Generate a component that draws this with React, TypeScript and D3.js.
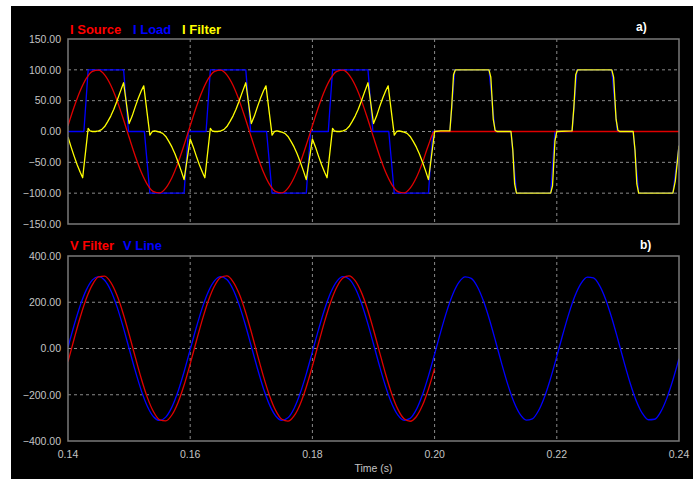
import React from "react";
import * as d3 from "d3";

// ---------- data ----------
const xTicks = [0.14, 0.16, 0.18, 0.2, 0.22, 0.24];
const yTicksTop = [-150, -100, -50, 0, 50, 100, 150];
const yTicksBot = [-400, -200, 0, 200, 400];

// I Source (A), sampled every 1 ms from 0.140 to 0.199, then off
const iSourceT = [
  0.140, 0.141, 0.142, 0.143, 0.144, 0.145, 0.146, 0.147, 0.148, 0.149,
  0.150, 0.151, 0.152, 0.153, 0.154, 0.155, 0.156, 0.157, 0.158, 0.159,
  0.160, 0.161, 0.162, 0.163, 0.164, 0.165, 0.166, 0.167, 0.168, 0.169,
  0.170, 0.171, 0.172, 0.173, 0.174, 0.175, 0.176, 0.177, 0.178, 0.179,
  0.180, 0.181, 0.182, 0.183, 0.184, 0.185, 0.186, 0.187, 0.188, 0.189,
  0.190, 0.191, 0.192, 0.193, 0.194, 0.195, 0.196, 0.197, 0.198, 0.199,
  0.200, 0.240,
];
const iSourceV = [
  9.4, 39.7, 66.1, 86.1, 97.6, 99.6, 91.8, 75.0, 50.9, 21.8,
  -9.4, -39.7, -66.1, -86.1, -97.6, -99.6, -91.8, -75.0, -50.9, -21.8,
  9.4, 39.7, 66.1, 86.1, 97.6, 99.6, 91.8, 75.0, 50.9, 21.8,
  -9.4, -39.7, -66.1, -86.1, -97.6, -99.6, -91.8, -75.0, -50.9, -21.8,
  9.4, 39.7, 66.1, 86.1, 97.6, 99.6, 91.8, 75.0, 50.9, 21.8,
  -9.4, -39.7, -66.1, -86.1, -97.6, -99.6, -91.8, -75.0, -50.9, -21.8,
  0, 0,
];

// I Load (A), breakpoints
const iLoadT = [
  0.1400, 0.1426, 0.1433, 0.1491, 0.1499, 0.1525, 0.1534, 0.1590, 0.1597,
  0.1626, 0.1633, 0.1691, 0.1699, 0.1725, 0.1734, 0.1790, 0.1797,
  0.1826, 0.1833, 0.1891, 0.1899, 0.1925, 0.1934, 0.1990, 0.1997,
  0.2025, 0.2033, 0.2089, 0.2099, 0.2125, 0.2134, 0.2190, 0.2197,
  0.2225, 0.2233, 0.2290, 0.2299, 0.2325, 0.2334, 0.2390, 0.2400,
];
const iLoadV = [
  0, 0, 100, 100, 0, 0, -100, -100, 0,
  0, 100, 100, 0, 0, -100, -100, 0,
  0, 100, 100, 0, 0, -100, -100, 0,
  0, 100, 100, 0, 0, -100, -100, 0,
  0, 100, 100, 0, 0, -100, -100, -23,
];

// I Filter (A), breakpoints
const iFilterT = [
  0.1400, 0.1405, 0.1410, 0.1415, 0.1420, 0.1424, 0.1433, 0.1436, 0.1440, 0.1445,
  0.1450, 0.1455, 0.1460, 0.1465, 0.1470, 0.1475, 0.1480, 0.1485, 0.1491, 0.1500,
  0.1505, 0.1510, 0.1515, 0.1520, 0.1524, 0.1534, 0.1538, 0.1542, 0.1546, 0.1550,
  0.1555, 0.1560, 0.1565, 0.1570, 0.1575, 0.1580, 0.1585, 0.1590,
  0.1600, 0.1605, 0.1610, 0.1615, 0.1620, 0.1624, 0.1633, 0.1636, 0.1640, 0.1645,
  0.1650, 0.1655, 0.1660, 0.1665, 0.1670, 0.1675, 0.1680, 0.1685, 0.1691, 0.1700,
  0.1705, 0.1710, 0.1715, 0.1720, 0.1724, 0.1734, 0.1738, 0.1742, 0.1746, 0.1750,
  0.1755, 0.1760, 0.1765, 0.1770, 0.1775, 0.1780, 0.1785, 0.1790,
  0.1800, 0.1805, 0.1810, 0.1815, 0.1820, 0.1824, 0.1833, 0.1836, 0.1840, 0.1845,
  0.1850, 0.1855, 0.1860, 0.1865, 0.1870, 0.1875, 0.1880, 0.1885, 0.1891, 0.1900,
  0.1905, 0.1910, 0.1915, 0.1920, 0.1924, 0.1934, 0.1938, 0.1942, 0.1946, 0.1950,
  0.1955, 0.1960, 0.1965, 0.1970, 0.1975, 0.1980, 0.1985, 0.1990,
  0.2000, 0.2010, 0.2025, 0.2028, 0.2031, 0.2034, 0.2089, 0.2092, 0.2096, 0.2099,
  0.2102, 0.2125, 0.2128, 0.2131, 0.2134, 0.2190, 0.2193, 0.2197, 0.2200,
  0.2225, 0.2228, 0.2231, 0.2234, 0.2290, 0.2293, 0.2297, 0.2300, 0.2303,
  0.2325, 0.2328, 0.2331, 0.2334, 0.2390, 0.2394, 0.2400,
];
const iFilterV = [
  -9, -25, -40, -54, -66, -75, 5, 1, 0, 0,
  1, 3, 8, 16, 25, 36, 49, 63, 79, 13,
  25, 40, 54, 66, 74, -6, 0, 1, 0, -1,
  -3, -8, -16, -25, -36, -49, -63, -78,
  -12, -25, -40, -54, -66, -75, 5, 1, 0, 0,
  1, 3, 8, 16, 25, 36, 49, 63, 79, 13,
  25, 40, 54, 66, 74, -6, 0, 1, 0, -1,
  -3, -8, -16, -25, -36, -49, -63, -78,
  -12, -25, -40, -54, -66, -75, 5, 1, 0, 0,
  1, 3, 8, 16, 25, 36, 49, 63, 79, 13,
  25, 40, 54, 66, 74, -6, 0, 1, 0, -1,
  -3, -8, -16, -25, -36, -49, -63, -78,
  0, 1, 1, 40, 92, 100, 100, 88, 20, 2,
  0, 0, -30, -85, -100, -100, -88, -15, 0,
  1, 40, 92, 100, 100, 88, 20, 2, 0,
  0, -30, -85, -100, -100, -80, -23,
];

// V Line (V), sampled every 1 ms from 0.140 to 0.240
const vLineV = [
  4.9, 100.3, 186.0, 253.6, 296.7, 311.0, 295.2, 250.8, 182.0, 95.7,
  0, -95.7, -182.0, -250.8, -295.2, -311.0, -296.7, -253.6, -186.0, -100.3,
  -4.9, 91.0, 178.0, 247.8, 293.6, 310.9, 298.1, 256.4, 189.8, 104.9,
  9.8, -86.3, -174.0, -244.9, -291.9, -310.8, -299.5, -259.1, -193.7, -109.5,
  -14.6, 81.6, 170.0, 241.8, 290.2, 310.5, 300.7, 261.8, 197.5, 114.0,
  19.5, -76.9, -165.8, -238.8, -288.4, -310.2, -302.0, -264.4, -201.2, -118.6,
  -24.4, 72.1, 161.7, 235.5, 286.6, 309.8, 303.1, 266.9, 205.0, 123.1,
  29.3, -67.4, -157.5, -232.3, -284.7, -309.4, -304.1, -269.4, -208.6, -127.5,
  -34.1, 62.6, 153.2, 229.0, 282.6, 308.8, 305.1, 271.8, 212.2, 132.0,
  39.0, -57.8, -149.0, -225.7, -280.6, -308.2, -306.0, -274.2, -215.7, -136.4,
  -43.8,
];

// V Filter (V), sampled every 1 ms from 0.140 to 0.200
const vFilterV = [
  -56.9, 41.2, 135.2, 216.2, 276.1, 309.4, 312.6, 285.5, 230.9, 153.7,
  61.7, -36.3, -130.7, -212.5, -273.7, -308.4, -313.2, -287.6, -234.2, -158.0,
  -66.6, 31.3, 126.2, 208.9, 271.3, 307.3, 313.7, 289.6, 237.4, 162.3,
  71.4, -26.4, -121.7, -205.1, -268.7, -306.2, -314.1, -291.5, -240.7, -166.5,
  -76.2, 21.5, 117.1, 201.4, 266.1, 305.0, 314.4, 293.3, 243.8, 170.7,
  81.0, -16.5, -112.5, -197.5, -263.4, -303.8, -314.7, -295.1, -246.9, -174.8,
  -85.8,
];

// ---------- layout ----------
const W = 693;
const H = 479;
const PL = 68;
const PR = 679;
const TOP1 = 39;
const BOT1 = 224;
const TOP2 = 256;
const BOT2 = 441;

const FONT = "'Liberation Sans', Arial, Helvetica, sans-serif";
const GRID = "#8a8a8a";
const FRAME = "#7a7a7a";
const LABEL = "#c4c4c4";

const x = d3.scaleLinear().domain([0.14, 0.24]).range([PL, PR]);
const yTop = d3.scaleLinear().domain([-150, 150]).range([BOT1, TOP1]);
const yBot = d3.scaleLinear().domain([-400, 400]).range([BOT2, TOP2]);
const fmt = d3.format(".2f");

type P = [number, number];
const zip = (t: number[], v: number[]): P[] => t.map((tt, i) => [tt, v[i]]);
const msGrid = (n: number): number[] =>
  d3.range(n).map((i) => +(0.14 + i * 0.001).toFixed(4));

const lineLin = (ys: d3.ScaleLinear<number, number>) =>
  d3
    .line<P>()
    .x((d) => x(d[0]))
    .y((d) => ys(d[1]))
    .curve(d3.curveLinear);
const lineSmooth = (ys: d3.ScaleLinear<number, number>) =>
  d3
    .line<P>()
    .x((d) => x(d[0]))
    .y((d) => ys(d[1]))
    .curve(d3.curveMonotoneX);

function Panel({
  ys,
  top,
  bottom,
  yTicks,
  id,
}: {
  ys: d3.ScaleLinear<number, number>;
  top: number;
  bottom: number;
  yTicks: number[];
  id: string;
}) {
  return (
    <g>
      {yTicks
        .filter((v) => v !== yTicks[0] && v !== yTicks[yTicks.length - 1])
        .map((v) => (
          <line
            key={"h" + v}
            x1={PL}
            x2={PR}
            y1={ys(v)}
            y2={ys(v)}
            stroke={GRID}
            strokeWidth={1}
            strokeDasharray="3,3"
          />
        ))}
      {xTicks.slice(1, -1).map((t) => (
        <line
          key={"v" + t}
          x1={x(t)}
          x2={x(t)}
          y1={top}
          y2={bottom}
          stroke={GRID}
          strokeWidth={1}
          strokeDasharray="3,3"
        />
      ))}
      {yTicks.map((v) => (
        <text
          key={"t" + v}
          x={61}
          y={ys(v)}
          dy="0.36em"
          textAnchor="end"
          fill={LABEL}
          fontFamily={FONT}
          fontSize={10.5}
        >
          {fmt(v)}
        </text>
      ))}
      <clipPath id={id}>
        <rect x={PL} y={top} width={PR - PL} height={bottom - top} />
      </clipPath>
    </g>
  );
}

export default function App() {
  const srcPts = zip(iSourceT, iSourceV);
  const loadPts = zip(iLoadT, iLoadV);
  const filtPts = zip(iFilterT, iFilterV);
  const vLinePts = zip(msGrid(vLineV.length), vLineV);
  const vFiltPts = zip(msGrid(vFilterV.length), vFilterV);

  return (
    <svg
      width={W}
      height={H}
      style={{ position: "absolute", left: 0, top: 0, background: "#fff" }}
    >
      <rect x={11} y={6} width={W - 11} height={H - 6} fill="#000" />

      {/* top panel */}
      <Panel ys={yTop} top={TOP1} bottom={BOT1} yTicks={yTicksTop} id="c1" />
      <g clipPath="url(#c1)" fill="none" strokeWidth={1.3} strokeLinejoin="round">
        <path d={lineLin(yTop)(loadPts) || ""} stroke="#0000ff" />
        <path d={lineSmooth(yTop)(srcPts) || ""} stroke="#e00000" />
        <path d={lineLin(yTop)(filtPts) || ""} stroke="#ffff00" />
      </g>
      <rect
        x={PL}
        y={TOP1}
        width={PR - PL}
        height={BOT1 - TOP1}
        fill="none"
        stroke={FRAME}
        strokeWidth={1.5}
      />
      <g fontFamily={FONT} fontWeight="bold" fontSize={13}>
        <text x={70} y={34} fill="#ff0000">I Source</text>
        <text x={133} y={34} fill="#0000ff">I Load</text>
        <text x={182} y={34} fill="#ffff00">I Filter</text>
        <text x={636} y={31} fill="#ffffff" fontSize={12}>a)</text>
      </g>

      {/* bottom panel */}
      <Panel ys={yBot} top={TOP2} bottom={BOT2} yTicks={yTicksBot} id="c2" />
      <g clipPath="url(#c2)" fill="none" strokeWidth={1.3} strokeLinejoin="round">
        <path d={lineSmooth(yBot)(vLinePts) || ""} stroke="#0000ff" />
        <path d={lineSmooth(yBot)(vFiltPts) || ""} stroke="#e00000" />
      </g>
      <rect
        x={PL}
        y={TOP2}
        width={PR - PL}
        height={BOT2 - TOP2}
        fill="none"
        stroke={FRAME}
        strokeWidth={1.5}
      />
      <g fontFamily={FONT} fontWeight="bold" fontSize={13}>
        <text x={70} y={250} fill="#ff0000">V Filter</text>
        <text x={123} y={250} fill="#0000ff">V Line</text>
        <text x={640} y={249} fill="#ffffff" fontSize={12}>b)</text>
      </g>

      {/* x axis */}
      {xTicks.map((t) => (
        <text
          key={"x" + t}
          x={x(t)}
          y={457.5}
          textAnchor="middle"
          fill={LABEL}
          fontFamily={FONT}
          fontSize={10.5}
        >
          {fmt(t)}
        </text>
      ))}
      <text
        x={(PL + PR) / 2}
        y={472}
        textAnchor="middle"
        fill={LABEL}
        fontFamily={FONT}
        fontSize={10.5}
      >
        Time (s)
      </text>
    </svg>
  );
}
